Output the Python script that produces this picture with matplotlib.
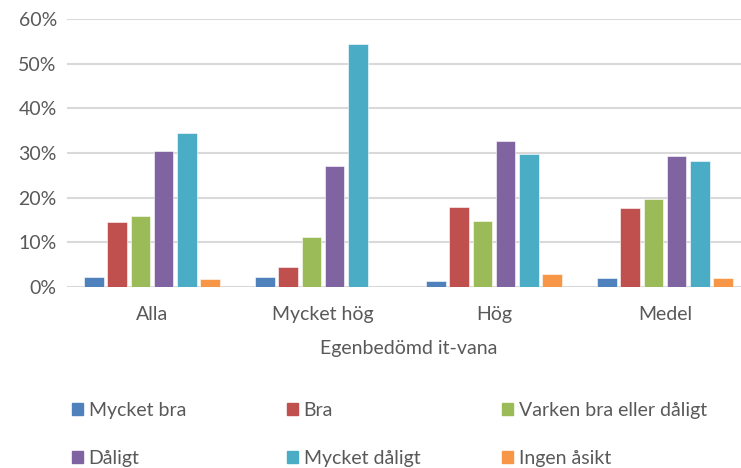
import matplotlib
matplotlib.use("Agg")
import matplotlib.pyplot as plt
from matplotlib.patches import Patch
from matplotlib.ticker import PercentFormatter
import numpy as np

groups = ["Alla", "Mycket hög", "Hög", "Medel"]
series = ["Mycket bra", "Bra", "Varken bra eller dåligt",
          "Dåligt", "Mycket dåligt", "Ingen åsikt"]
colors = ["#4F81BD", "#C0504D", "#9BBB59", "#8064A2", "#4BACC6", "#F79646"]

# share per answer, one list per answer category (order follows groups)
mycket_bra = [2.2, 2.2, 1.3, 2.0]
bra = [14.5, 4.5, 17.8, 17.7]
varken = [15.8, 11.2, 14.8, 19.8]
daligt = [30.4, 27.2, 32.7, 29.3]
mycket_daligt = [34.5, 54.4, 29.8, 28.2]
ingen_asikt = [1.7, 0.0, 2.9, 2.0]
values = [mycket_bra, bra, varken, daligt, mycket_daligt, ingen_asikt]

plt.rcParams["font.family"] = ["Lato", "DejaVu Sans"]
text_col = "#595959"
fs = 14

fig = plt.figure(figsize=(7.41, 4.68), dpi=100)
# plot area runs a little past the right edge of the canvas
ax = fig.add_axes([66.5 / 741, 1 - 287 / 468, 684 / 741, 268 / 468])

x = np.arange(len(groups))
slot = 0.136
width = 0.113
for i, (name, vals, c) in enumerate(zip(series, values, colors)):
    ax.bar(x + (i - 2.5) * slot, vals, width, color=c, label=name,
           edgecolor="white", linewidth=0.4, zorder=3)

ax.set_xlim(-0.5, len(groups) - 0.5)
ax.set_ylim(0, 60)
ax.set_yticks(range(0, 61, 10))
ax.yaxis.set_major_formatter(PercentFormatter(decimals=0))
ax.set_xticks(x)
ax.set_xticklabels(groups)
ax.grid(axis="y", color="#D9D9D9", linewidth=1.5, zorder=0)
for s in ax.spines.values():
    s.set_visible(False)
ax.tick_params(length=0, labelsize=fs, colors=text_col)
ax.tick_params(axis="x", pad=14)
ax.tick_params(axis="y", pad=7)
ax.set_xlabel("Egenbedömd it-vana", fontsize=fs, color=text_col, labelpad=12)

# legend laid out as three evenly spaced columns
handles = [Patch(color=c) for c in colors]
col_x = [72 / 741, 287 / 741, 502 / 741]
for k in range(3):
    idx = [k, k + 3]
    leg = fig.legend([handles[j] for j in idx], [series[j] for j in idx],
                     loc="upper left", bbox_to_anchor=(col_x[k], 1 - 402 / 468),
                     frameon=False, fontsize=fs, handlelength=0.55,
                     handleheight=0.55, handletextpad=0.3, labelspacing=1.6,
                     borderaxespad=0, borderpad=0)
    for t in leg.get_texts():
        t.set_color(text_col)

fig.savefig("out.png", dpi=100)
